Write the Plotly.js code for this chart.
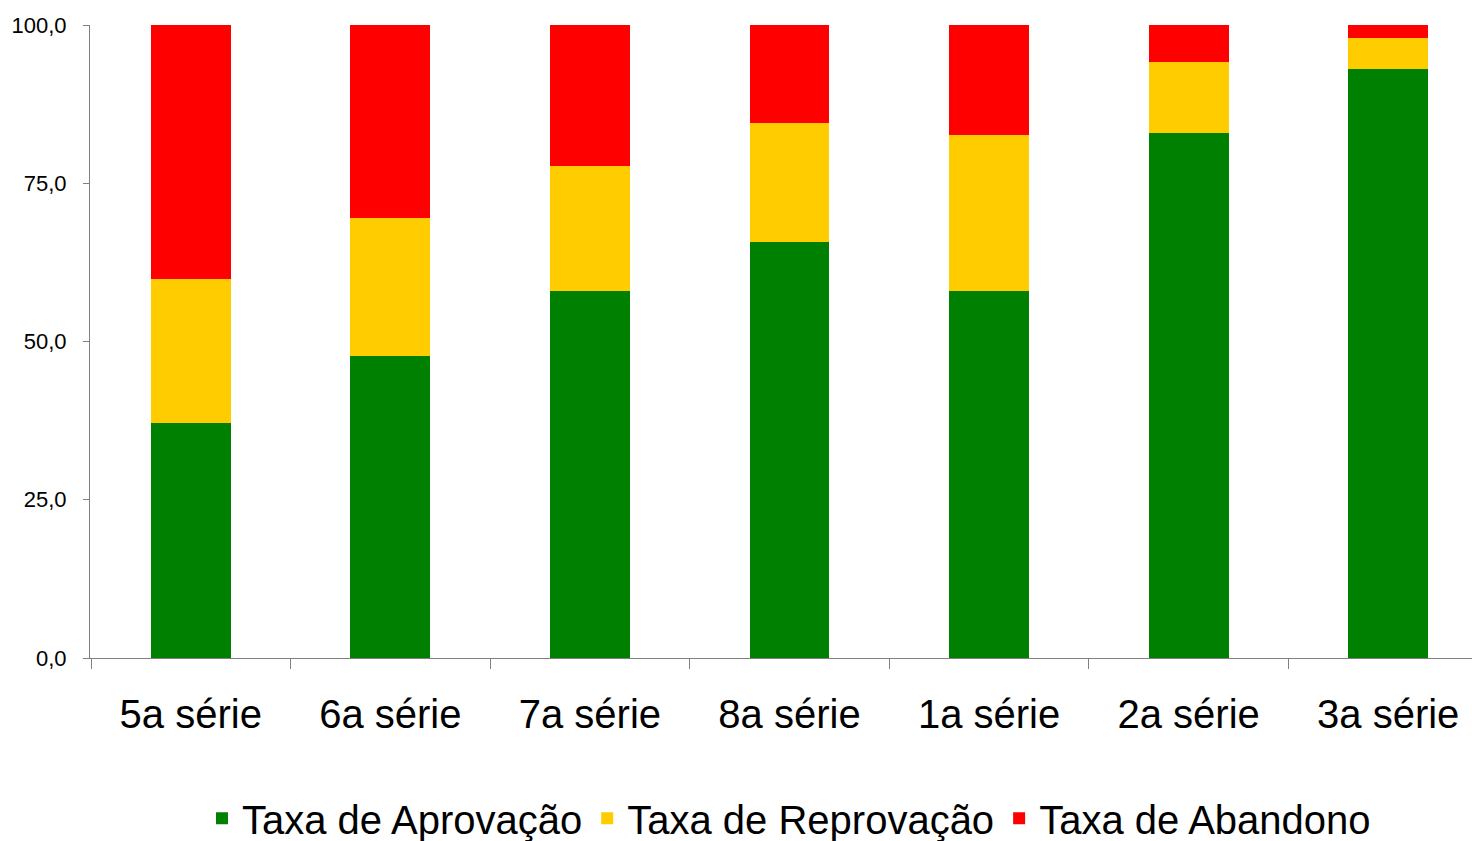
<!DOCTYPE html>
<html>
<head>
<meta charset="utf-8">
<script src="https://cdn.plot.ly/plotly-3.0.1.min.js"></script>
<style>
  html, body { margin: 0; padding: 0; background: #fff; overflow: hidden; }
  #chart { width: 1472px; height: 841px; }
</style>
</head>
<body>
<div id="chart"></div>
<script>
const categories = ['5a série', '6a série', '7a série', '8a série', '1a série', '2a série', '3a série'];
const aprovacao  = [37.1, 47.7, 57.9, 65.7, 57.9, 83.0, 93.1];
const reprovacao = [22.7, 21.8, 19.9, 18.8, 24.7, 11.2, 4.9];
const abandono   = [40.2, 30.5, 22.2, 15.5, 17.4, 5.8, 2.0];
const seriesNames = ['Taxa de Aprovação', 'Taxa de Reprovação', 'Taxa de Abandono'];
const yTicks = [0, 25, 50, 75, 100];

const font = 'Liberation Sans, Arial, sans-serif';
const colors = ['#008000', '#FFCC00', '#FF0000'];
const data = [aprovacao, reprovacao, abandono].map((vals, i) => ({
  type: 'bar',
  name: seriesNames[i],
  x: categories,
  y: vals,
  marker: { color: colors[i], line: { width: 0 } },
  hoverinfo: 'skip'
}));

const layout = {
  width: 1472,
  height: 841,
  barmode: 'stack',
  bargap: 0.6,
  separators: ',.',
  paper_bgcolor: '#fff',
  plot_bgcolor: '#fff',
  margin: { l: 90, r: 0, t: 25, b: 183, autoexpand: false },
  font: { family: font, color: '#000' },
  xaxis: {
    type: 'category',
    range: [-0.505, 6.42],
    automargin: false,
    showline: true,
    linecolor: '#808080',
    linewidth: 1,
    ticks: 'outside',
    tickson: 'boundaries',
    ticklen: 10,
    tickcolor: '#808080',
    tickfont: { size: 40, family: font, color: '#000' },
    ticklabelstandoff: 21,
    showgrid: false,
    zeroline: false,
    fixedrange: true
  },
  yaxis: {
    range: [0, 100],
    tickvals: yTicks,
    tickformat: '.1f',
    automargin: false,
    showline: true,
    linecolor: '#808080',
    linewidth: 1,
    ticks: 'outside',
    ticklen: 6,
    tickcolor: '#808080',
    tickfont: { size: 22, family: font, color: '#000' },
    ticklabelstandoff: 12,
    showgrid: false,
    zeroline: false,
    fixedrange: true
  },
  showlegend: true,
  legend: {
    orientation: 'h',
    xref: 'container',
    yref: 'container',
    x: 0.536,
    xanchor: 'center',
    y: 0.027,
    yanchor: 'middle',
    font: { size: 40, family: font, color: '#000' },
    traceorder: 'normal',
    itemwidth: 30
  }
};

Plotly.newPlot('chart', data, layout, { staticPlot: true, displayModeBar: false });
</script>
</body>
</html>
